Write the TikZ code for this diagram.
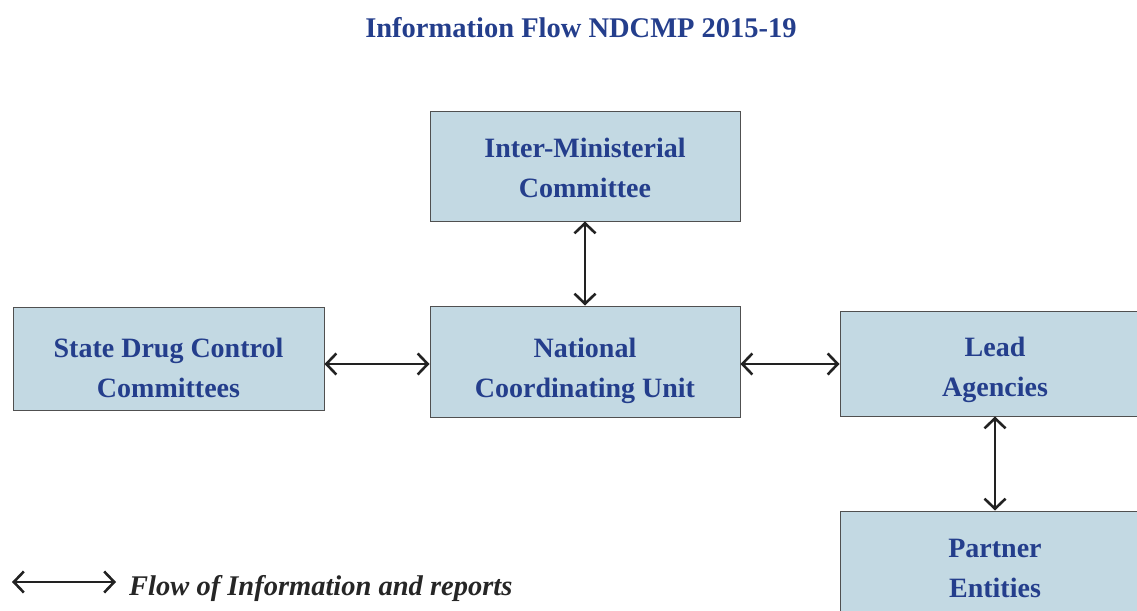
\documentclass[tikz,border=0pt]{standalone}
\usepackage{fontspec}
\setmainfont{Liberation Serif}
\usetikzlibrary{arrows.meta}
\definecolor{boxfill}{HTML}{C3D9E3}
\definecolor{boxline}{HTML}{505050}
\definecolor{navy}{HTML}{243E8C}
\definecolor{arrowc}{HTML}{222222}
\begin{document}
\begin{tikzpicture}[x=1pt,y=-1pt,
  unitbox/.style={draw=boxline, line width=1pt, fill=boxfill, inner sep=0pt},
  boxtext/.style={text=navy, font=\bfseries\fontsize{28}{40}\selectfont, align=center, inner sep=0pt},
  flow/.style={draw=arrowc, line width=2.7pt,
    {Straight Barb[length=10pt,width=21pt,line width=2.6pt]}-{Straight Barb[length=10pt,width=21pt,line width=2.6pt]}}
]
\useasboundingbox (0,0) rectangle (1137,610);
\clip (0,0) rectangle (1137,610);
\node[text=navy, font=\bfseries\fontsize{28.5}{32}\selectfont] (title) at (581,28) {Information Flow NDCMP 2015-19};
\node[unitbox, minimum width=310pt, minimum height=110pt] (imc) at (585,166) {};
\node[unitbox, minimum width=310pt, minimum height=111pt] (ncu) at (585,361.5) {};
\node[unitbox, minimum width=311pt, minimum height=103pt] (sdcc) at (168.5,358.5) {};
\node[unitbox, minimum width=310pt, minimum height=105pt] (lead) at (995,363.5) {};
\node[unitbox, minimum width=310pt, minimum height=110pt] (part) at (995,566) {};
\node[boxtext] (imct) at ([yshift=-2pt]imc.center) {Inter-Ministerial\\Committee};
\node[boxtext] (ncut) at ([yshift=-9pt]ncu.center) {National\\Coordinating Unit};
\node[boxtext] (sdcct) at ([yshift=-9pt]sdcc.center) {State Drug Control\\Committees};
\node[boxtext] (leadt) at ([yshift=-6pt]lead.center) {Lead\\Agencies};
\node[boxtext] (partt) at ([yshift=-2pt]part.center) {Partner\\Entities};
\draw[flow] (imc.south) -- (ncu.north);
\draw[flow] (sdcc.east |- 0,364) -- (ncu.west |- 0,364);
\draw[flow] (ncu.east |- 0,364) -- (lead.west |- 0,364);
\draw[flow] (lead.south) -- (part.north);
\coordinate (legA) at (12,582);
\coordinate (legB) at (116,582);
\draw[flow] (legA) -- (legB);
\node[anchor=base west, inner sep=0pt, text=black!85, font=\itshape\bfseries\fontsize{28.5}{32}\selectfont] (legtext) at (129,595) {Flow of Information and reports};
\end{tikzpicture}
\end{document}
